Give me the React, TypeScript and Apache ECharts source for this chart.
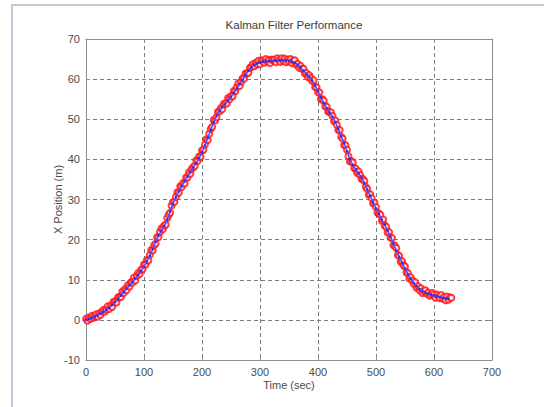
import React, { useEffect, useRef } from "react";
import * as echarts from "echarts";

// Sampling steps, in seconds
const EST_STEP = 5;
const MEAS_STEP = 2.5;

// Filter estimate of the X position (m), one value every 5 s from t = 0
const estimate: number[] = [
  0.0, 0.2, 0.5, 0.8, 1.1, 1.6, 2.0, 2.5, 3.0, 3.7,
  4.4, 5.2, 6.0, 6.9, 7.8, 8.6, 9.4, 10.3, 11.2, 12.2,
  13.3, 14.6, 16.0, 17.6, 19.4, 21.0, 22.2, 23.4, 25.0, 27.0,
  29.0, 30.6, 32.0, 33.3, 34.5, 35.7, 36.8, 38.0, 39.1, 40.3,
  41.8, 43.5, 45.3, 47.3, 49.3, 50.8, 52.0, 53.0, 53.8, 54.7,
  55.6, 56.6, 57.7, 58.8, 59.8, 61.0, 62.1, 62.9, 63.5, 63.9,
  64.1, 64.3, 64.4, 64.5, 64.5, 64.6, 64.6, 64.6, 64.7, 64.7,
  64.6, 64.4, 64.1, 63.6, 62.9, 62.1, 61.3, 60.6, 59.7, 58.4,
  57.0, 55.5, 54.0, 52.8, 51.7, 50.6, 49.3, 47.6, 45.8, 44.0,
  42.0, 40.0, 38.6, 37.5, 36.5, 35.5, 34.1, 32.5, 30.9, 29.3,
  27.8, 26.4, 25.0, 23.7, 22.3, 20.7, 19.0, 17.3, 15.7, 14.2,
  12.8, 11.4, 10.2, 9.2, 8.4, 7.7, 7.2, 6.8, 6.5, 6.3,
  6.1, 5.9, 5.7, 5.5, 5.3, 5.3,
];

// Noisy position measurements (m), one value every 2.5 s from t = 0 (25 s per row)
const measured: number[] = [
  0.3, -0.2, 0.6, 0.3, 1.0, 0.5, 0.9, 1.4, 0.8, 1.6,
  1.2, 2.1, 2.5, 2.1, 2.6, 3.4, 2.7, 3.6, 3.2, 4.5,
  4.6, 4.3, 5.6, 5.7, 5.7, 7.1, 6.7, 7.7, 7.4, 8.7,
  8.3, 9.4, 9.3, 10.5, 9.8, 11.0, 11.7, 11.4, 12.5, 12.6,
  13.8, 13.8, 14.9, 14.8, 16.2, 17.4, 17.3, 18.6, 19.0, 20.6,
  20.6, 21.9, 22.8, 22.6, 23.5, 23.7, 25.4, 26.2, 26.7, 28.5,
  29.3, 29.4, 30.7, 31.8, 31.7, 33.3, 33.1, 34.1, 34.0, 35.5,
  35.5, 36.8, 36.4, 37.7, 38.1, 38.3, 39.7, 39.6, 40.7, 40.6,
  42.2, 42.4, 43.7, 45.0, 44.8, 46.4, 47.6, 48.1, 49.8, 49.7,
  50.5, 51.9, 51.9, 52.8, 52.5, 53.8, 54.0, 53.9, 55.3, 55.0,
  55.8, 55.7, 57.1, 57.0, 58.0, 58.9, 58.3, 59.4, 60.2, 60.1,
  61.4, 61.4, 61.6, 62.8, 63.0, 63.7, 63.2, 64.1, 63.7, 64.6,
  63.7, 64.7, 64.5, 64.1, 65.0, 64.4, 64.8, 64.0, 64.9, 64.7,
  64.9, 64.2, 65.2, 64.7, 64.3, 65.2, 64.5, 65.1, 64.2, 64.9,
  64.4, 65.0, 64.0, 64.6, 64.7, 63.6, 63.8, 62.8, 63.3, 62.6,
  62.6, 61.4, 61.5, 60.5, 61.0, 60.3, 59.5, 59.7, 58.0, 58.0,
  56.7, 56.7, 55.0, 55.0, 54.6, 53.2, 53.1, 51.9, 51.8, 51.7,
  50.8, 49.5, 49.7, 48.6, 47.3, 47.3, 45.6, 45.2, 43.6, 43.5,
  42.4, 40.8, 39.5, 39.6, 39.2, 37.8, 37.7, 36.6, 37.0, 36.1,
  35.1, 35.1, 34.6, 33.1, 32.6, 31.2, 31.3, 30.3, 29.0, 29.2,
  28.1, 26.7, 26.5, 26.2, 24.7, 25.0, 23.5, 23.2, 21.8, 21.9,
  20.5, 20.4, 18.6, 18.5, 17.9, 16.2, 15.9, 14.5, 14.6, 13.6,
  13.3, 11.8, 11.6, 10.3, 10.6, 9.8, 9.0, 9.4, 8.0, 8.4,
  7.4, 7.9, 6.7, 7.2, 7.4, 6.5, 6.8, 6.0, 6.4, 6.7,
  6.3, 5.5, 6.3, 5.9, 5.4, 6.2, 5.3, 5.7, 4.9, 5.8,
  5.0, 5.6, 5.5,
];

const titleText = "Kalman Filter Performance";
const xName = "Time (sec)";
const yName = "X Position (m)";

const FONT = "'Liberation Sans', Arial, sans-serif";
const AXIS = "#8c8c8c";
const LABEL = "#4a4a4a";
const GRID = "#7c7c7c";

const toPairs = (vals: number[], step: number) => vals.map((v, i) => [i * step, v]);

export default function App() {
  const ref = useRef<HTMLDivElement>(null);

  useEffect(() => {
    document.body.style.margin = "0";
    if (!ref.current) return;
    const chart = echarts.init(ref.current, undefined, { renderer: "svg" });

    // Mirror axes on the top and right that only close the box and carry ticks
    const tickOnly = {
      axisLine: { show: true, onZero: false, lineStyle: { color: AXIS, width: 1 } },
      axisTick: { show: true, inside: true, length: 4, lineStyle: { color: AXIS } },
      axisLabel: { show: false },
      splitLine: { show: false },
    };

    chart.setOption({
      animation: false,
      backgroundColor: "#ffffff",
      title: {
        text: titleText,
        left: 289,
        textAlign: "center",
        top: 14,
        textStyle: { fontFamily: FONT, fontSize: 11.5, fontWeight: "normal", color: "#3a3a3a" },
      },
      graphic: [
        {
          type: "rect",
          shape: { x: 12, y: 5, width: 620, height: 500 },
          style: { fill: "none", stroke: "#c6c6d8", lineWidth: 2 },
          silent: true,
        },
      ],
      grid: { left: 86, top: 39, width: 406, height: 321, containLabel: false },
      xAxis: [
        {
          type: "value",
          min: 0,
          max: 700,
          interval: 100,
          position: "bottom",
          name: xName,
          nameLocation: "middle",
          nameGap: 19,
          nameMoveOverlap: false,
          nameTextStyle: { fontFamily: FONT, fontSize: 11, color: LABEL },
          axisLine: { show: true, onZero: false, lineStyle: { color: AXIS, width: 1 } },
          axisTick: { show: true, inside: true, length: 4, lineStyle: { color: AXIS } },
          axisLabel: { fontFamily: FONT, fontSize: 11, color: LABEL, margin: 6 },
          splitLine: { show: true, lineStyle: { color: GRID, type: [4, 3], width: 1 } },
        },
        { type: "value", min: 0, max: 700, interval: 100, position: "top", ...tickOnly },
      ],
      yAxis: [
        {
          type: "value",
          min: -10,
          max: 70,
          interval: 10,
          position: "left",
          name: yName,
          nameLocation: "middle",
          nameGap: 23,
          nameMoveOverlap: false,
          nameRotate: 90,
          nameTextStyle: { fontFamily: FONT, fontSize: 11, color: LABEL },
          axisLine: { show: true, onZero: false, lineStyle: { color: AXIS, width: 1 } },
          axisTick: { show: true, inside: true, length: 4, lineStyle: { color: AXIS } },
          axisLabel: { fontFamily: FONT, fontSize: 11, color: LABEL, margin: 6 },
          splitLine: { show: true, lineStyle: { color: GRID, type: [4, 3], width: 1 } },
        },
        { type: "value", min: -10, max: 70, interval: 10, position: "right", ...tickOnly },
      ],
      series: [
        {
          name: "Measured",
          type: "scatter",
          data: toPairs(measured, MEAS_STEP),
          symbol: "emptyCircle",
          symbolSize: 6,
          itemStyle: { color: "#ff1010", borderColor: "#ff1010", borderWidth: 1.6 },
          silent: true,
          z: 2,
        },
        {
          name: "Estimate",
          type: "line",
          data: toPairs(estimate, EST_STEP),
          symbol: "circle",
          symbolSize: 2.5,
          showSymbol: true,
          itemStyle: { color: "#2a2aff" },
          lineStyle: { color: "#5050ff", width: 1.6 },
          silent: true,
          z: 3,
        },
      ],
    });

    return () => chart.dispose();
  }, []);

  return <div ref={ref} style={{ width: 544, height: 407 }} />;
}
